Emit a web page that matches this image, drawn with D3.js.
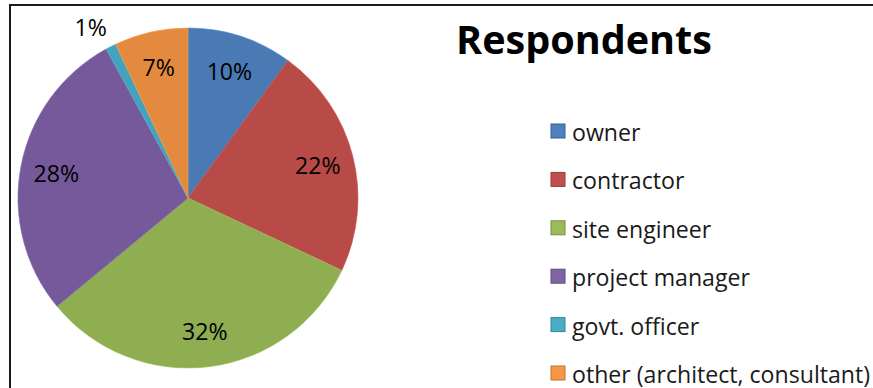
<!DOCTYPE html>
<html>
<head>
<meta charset="utf-8">
<script src="https://cdn.jsdelivr.net/npm/d3@7"></script>
<style>
html,body{margin:0;padding:0;background:#fff;}
svg{display:block;}
text{font-family:"Open Sans","Liberation Sans",sans-serif;}
</style>
</head>
<body>
<svg id="chart" width="873" height="388"></svg>
<script>
const categories = ["owner","contractor","site engineer","project manager","govt. officer","other (architect, consultant)"];
const values = [10,22,32,28,1,7];
const labels = ["10%","22%","32%","28%","1%","7%"];
const title = "Respondents";
const sliceColors = ["#4A7AB4","#B84A47","#8FAD51","#76599A","#43A2BD","#E48A3E"];
const swatchColors = ["#4F81BD","#C0504D","#9BBB59","#8064A2","#4BACC6","#F79646"];
const swatchStroke = ["#3A6090","#943B39","#76903F","#5E4A7A","#35879C","#C0722F"];

const svg = d3.select("#chart");
const W = 873, H = 388;

// frame
svg.append("path")
  .attr("d", `M10,${H+5} L10,5 L${W+5},5`)
  .attr("fill","none").attr("stroke","#1a1a1a").attr("stroke-width",2);

const cx = 188, cy = 198, R = 170;
const g = svg.append("g").attr("transform",`translate(${cx},${cy})`);

const pie = d3.pie().sort(null).value(d => d.v);
const data = pie(values.map((v,i)=>({v, i})));
const arc = d3.arc().innerRadius(0).outerRadius(R);

g.selectAll("path.slice").data(data).join("path")
  .attr("class","slice")
  .attr("d", arc)
  .attr("fill", d => sliceColors[d.data.i])
  .attr("stroke", d => d3.color(sliceColors[d.data.i]).brighter(0.3))
  .attr("stroke-width",0.6);

// font fitting
function fitSize(str, target, weight){
  const t = svg.append("text").attr("font-size",100).attr("font-weight",weight||"normal").text(str);
  const w = t.node().getComputedTextLength();
  t.remove();
  return 100*target/w;
}
const legendSize = fitSize("project manager", 178);
const labelSize = legendSize;

const inR = 134, outR = 197;
g.selectAll("text.lbl").data(data).join("text")
  .attr("class","lbl")
  .attr("font-size", labelSize)
  .attr("fill","#000")
  .attr("text-anchor","middle")
  .attr("dominant-baseline","central")
  .attr("transform", d => {
    const small = (d.endAngle - d.startAngle) < 0.15;
    let a = (d.startAngle + d.endAngle)/2;
    let r = inR;
    if (small){ a -= 0.045; r = outR; }
    return `translate(${r*Math.sin(a)},${-r*Math.cos(a)})`;
  })
  .text(d => labels[d.data.i]);

// title
const titleSize = fitSize(title, 256, "bold");
svg.append("text")
  .attr("x", 584).attr("y", 54)
  .attr("text-anchor","middle")
  .attr("font-weight","bold")
  .attr("font-size", titleSize)
  .attr("fill","#000")
  .text(title);

// legend
const ly = d3.scalePoint().domain(categories).range([131, 373]);
const lg = svg.append("g");
const item = lg.selectAll("g").data(categories).join("g")
  .attr("transform", d => `translate(551,${ly(d)})`);
item.append("rect")
  .attr("x",0).attr("y",-7).attr("width",14).attr("height",14)
  .attr("fill",(d,i)=>swatchColors[i])
  .attr("stroke",(d,i)=>swatchStroke[i]).attr("stroke-width",1);
item.append("text")
  .attr("x",21).attr("y",1)
  .attr("dominant-baseline","central")
  .attr("font-size", legendSize)
  .attr("fill","#1a1a1a")
  .text(d => d);
</script>
</body>
</html>
